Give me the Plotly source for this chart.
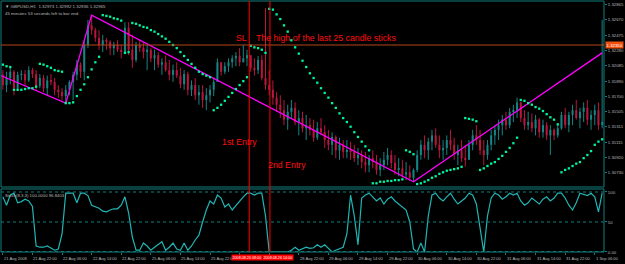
import plotly.graph_objects as go

# ---------------- data (prices in pips above 1.30000) ----------------
BASE = 1.30000
PIP = 0.0001

OPEN0 = 197
HIGH = [203, 201, 206, 203, 201, 203, 203, 208, 206, 203,
        198, 197, 196, 198, 193, 184, 180, 184, 190, 201,
        216, 213, 241, 267, 273, 257, 254, 248, 244, 241,
        239, 241, 235, 264, 264, 248, 239, 241, 238, 235,
        231, 229, 226, 218, 222, 216, 210, 213, 206, 203,
        201, 190, 193, 184, 184, 180, 184, 193, 218, 213,
        213, 218, 222, 226, 231, 235, 229, 222, 218, 221,
        222, 282, 203, 190, 175, 171, 165, 159, 165, 162,
        152, 150, 146, 142, 140, 137, 142, 133, 127, 124,
        120, 117, 114, 114, 112, 108, 104, 101, 99, 95,
        101, 95, 91, 99, 104, 101, 95, 91, 89, 86,
        82, 78, 101, 114, 120, 117, 127, 129, 120, 114,
        120, 127, 117, 108, 114, 108, 114, 127, 133, 127,
        114, 114, 127, 133, 140, 146, 150, 155, 159, 168,
        162, 152, 150, 148, 146, 142, 140, 137, 133, 129,
        133, 150, 155, 150, 159, 165, 155, 162, 165, 152,
        159, 162, 267]
LOW = [178, 175, 185, 171, 178, 190, 184, 188, 193, 178,
       180, 175, 170, 184, 171, 168, 165, 161, 171, 165,
       190, 193, 190, 231, 248, 239, 229, 226, 229, 222,
       222, 226, 218, 229, 222, 206, 213, 226, 218, 203,
       213, 203, 206, 197, 201, 190, 188, 193, 180, 178,
       171, 170, 165, 159, 155, 152, 162, 170, 188, 196,
       198, 201, 206, 208, 208, 213, 208, 201, 196, 198,
       190, 178, 171, 159, 150, 142, 133, 127, 142, 133,
       120, 124, 114, 120, 112, 114, 120, 104, 101, 95,
       91, 89, 91, 91, 89, 86, 82, 78, 73, 73,
       78, 70, 68, 76, 82, 78, 70, 68, 66, 63,
       62, 61, 73, 89, 91, 89, 101, 104, 91, 89,
       95, 101, 89, 82, 86, 80, 89, 101, 108, 95,
       82, 89, 101, 108, 114, 120, 127, 129, 137, 142,
       137, 127, 127, 124, 120, 117, 117, 114, 95, 114,
       117, 127, 129, 124, 133, 140, 129, 137, 133, 127,
       133, 127, 129]
CLOSE = [184, 193, 201, 180, 197, 198, 190, 203, 198, 183,
         193, 180, 190, 188, 178, 175, 170, 178, 188, 197,
         210, 201, 235, 260, 254, 244, 235, 241, 239, 231,
         235, 229, 226, 257, 229, 216, 235, 231, 226, 229,
         218, 222, 210, 213, 203, 197, 203, 196, 185, 198,
         178, 184, 171, 175, 165, 171, 178, 188, 213, 201,
         208, 213, 218, 221, 213, 218, 222, 206, 203, 216,
         193, 184, 178, 168, 159, 152, 140, 150, 155, 137,
         142, 129, 133, 127, 117, 129, 124, 114, 108, 118,
         101, 108, 99, 101, 99, 91, 95, 86, 82, 91,
         86, 76, 82, 89, 95, 85, 76, 78, 70, 73,
         66, 76, 95, 108, 101, 112, 120, 108, 101, 104,
         114, 108, 95, 101, 91, 89, 108, 120, 114, 101,
         95, 108, 120, 127, 133, 140, 133, 150, 152, 162,
         142, 133, 137, 129, 140, 124, 133, 120, 127, 120,
         129, 146, 133, 146, 152, 142, 150, 155, 140, 146,
         152, 133, 137]
SAR = [210, 208, 207, 178, 178, 178, 179, 180, 180, 182,
       211, 210, 208, 206, 203, 202, 201, 161, 161, 162,
       170, 178, 185, 194, 204, 213, 220, 273, 272, 271,
       269, 268, 266, 225, 226, 263, 262, 260, 258, 257,
       254, 252, 249, 246, 243, 239, 235, 231, 226, 221,
       216, 211, 206, 201, 198, 196, 194, 152, 155, 159,
       164, 169, 174, 179, 184, 189, 194, 234, 232, 231,
       229, 225, 281, 280, 274, 268, 260, 252, 241, 232,
       224, 215, 207, 199, 193, 187, 180, 174, 168, 161,
       155, 148, 142, 137, 131, 124, 118, 112, 106, 101,
       59, 59, 61, 61, 62, 62, 63, 63, 64, 101,
       99, 96, 58, 59, 61, 63, 66, 68, 71, 73,
       75, 76, 77, 78, 80, 142, 141, 140, 138, 76,
       78, 81, 84, 86, 90, 94, 99, 104, 110, 117,
       165, 164, 161, 159, 156, 154, 151, 147, 143, 140,
       134, 73, 76, 78, 81, 84, 86, 91, 95, 100,
       108, 112, 115]
STOCH = [92, 78, 95, 98, 82, 84, 88, 85, 76, 10,
         8, 8, 10, 7, 3, 5, 30, 98, 98, 98,
         82, 98, 98, 94, 78, 76, 73, 68, 67, 70,
         72, 72, 78, 92, 65, 25, 3, 3, 15, 10,
         3, 8, 12, 17, 3, 8, 15, 5, 3, 15,
         3, 10, 20, 28, 50, 70, 85, 80, 95, 90,
         75, 80, 70, 78, 85, 92, 98, 98, 95, 98,
         98, 60, 0, 0, 0, 0, 0, 0, 3, 8,
         3, 5, 8, 6, 7, 12, 8, 12, 6, 0,
         3, 6, 8, 30, 95, 60, 12, 90, 95, 98,
         92, 85, 90, 80, 88, 92, 85, 80, 75, 70,
         50, 5, 0, 15, 0, 60, 95, 98, 90, 85,
         92, 98, 88, 80, 85, 90, 98, 95, 80, 40,
         0, 60, 90, 98, 95, 88, 92, 98, 95, 98,
         85, 78, 82, 90, 85, 80, 88, 92, 85, 90,
         98, 98, 90, 78, 70, 82, 98, 96, 94, 98,
         92, 67, 98]

ZZ_BARS = [-1, 17, 24, 111, 162]
ZZ_PRICE = [1.3197, 1.3161, 1.3273, 1.3061, 1.3225]
SL_PRICE = 1.3235
ENTRY_BARS = [66.6, 72.2]
ENTRY_TIMES = ["2008.08.26 09:00", "2008.08.26 14:00"]

PRICE_TICKS = [1.32865, 1.32670, 1.32475, 1.32280, 1.32085, 1.31890, 1.31700,
               1.31505, 1.31311, 1.31115, 1.30920, 1.30730, 1.30535]
# time labels (those under the red date boxes are not visible in the chart)
TIME_BARS = [0, 8, 16, 24, 32, 40, 48, 56, 80, 88, 96, 104, 112, 120,
             128, 136, 144, 152, 160]
TIME_LABELS = ["21 Aug 2008", "21 Aug 22:00", "22 Aug 06:00", "22 Aug 14:00",
               "22 Aug 22:00", "25 Aug 06:00", "25 Aug 14:00", "25 Aug 22:00",
               "28 Aug 22:00", "29 Aug 06:00",
               "29 Aug 14:00", "29 Aug 22:00", "30 Aug 06:00", "30 Aug 14:00",
               "30 Aug 22:00", "31 Aug 06:00", "31 Aug 14:00", "31 Aug 22:00",
               "1 Sep 06:00"]
TICK_BARS = [8 * k for k in range(21)]

# ---------------- styles ----------------
TEAL = "#137f7f"
BULL = "#168484"
BEAR = "#b8173e"
SARC = "#00f5a0"
LBL = "#b8b8b8"
FONT = "Arial"
TXT_RED = "#ff1010"

N = len(CLOSE)
idx = list(range(N))
opens = [OPEN0] + CLOSE[:-1]
o = [BASE + v * PIP for v in opens]
c = [BASE + v * PIP for v in CLOSE]
h = [BASE + max(a, b, d) * PIP for a, b, d in zip(HIGH, opens, CLOSE)]
l = [BASE + min(a, b, d) * PIP for a, b, d in zip(LOW, opens, CLOSE)]
bull = [cc >= oo for oo, cc in zip(o, c)]

fig = go.Figure()

# wicks
for flag, col in ((True, BULL), (False, BEAR)):
    wx, wy = [], []
    for i in idx:
        if bull[i] == flag:
            wx += [i, i, None]
            wy += [l[i], h[i], None]
    fig.add_trace(go.Scatter(x=wx, y=wy, mode="lines", line=dict(color=col, width=1),
                             hoverinfo="skip", xaxis="x", yaxis="y"))

# bodies
fig.add_trace(go.Bar(x=idx, y=[max(abs(cc - oo), 0.00002) for oo, cc in zip(o, c)],
                     base=[min(oo, cc) for oo, cc in zip(o, c)], width=0.55,
                     marker=dict(color=[BULL if b else BEAR for b in bull], line=dict(width=0)),
                     xaxis="x", yaxis="y", hoverinfo="skip"))

# zigzag
fig.add_trace(go.Scatter(x=ZZ_BARS, y=ZZ_PRICE, mode="lines",
                         line=dict(color="#ff00ff", width=1.3), xaxis="x", yaxis="y"))

# parabolic SAR
fig.add_trace(go.Scatter(x=idx, y=[BASE + v * PIP for v in SAR], mode="markers",
                         marker=dict(symbol="square", size=2.3, color=SARC, line=dict(width=0)),
                         xaxis="x", yaxis="y"))

# oscillator
fig.add_trace(go.Scatter(x=idx, y=STOCH, mode="lines", line=dict(color="#22b5b5", width=1.2),
                         xaxis="x", yaxis="y2"))

shapes = [
    dict(type="rect", xref="paper", yref="paper", x0=0, x1=1, y0=0.259, y1=1,
         line=dict(color=TEAL, width=1)),
    dict(type="rect", xref="paper", yref="paper", x0=0, x1=1, y0=0, y1=0.251,
         line=dict(color=TEAL, width=1)),
    dict(type="line", xref="paper", yref="y", x0=0, x1=1, y0=SL_PRICE, y1=SL_PRICE,
         line=dict(color="#b4461c", width=1)),
]
for lv in (100, 50, 0.6):
    shapes.append(dict(type="line", xref="paper", yref="y2", x0=0, x1=1, y0=lv, y1=lv,
                       line=dict(color=TEAL, width=1, dash="dot")))
for eb in ENTRY_BARS:
    shapes.append(dict(type="line", xref="x", yref="paper", x0=eb, x1=eb, y0=0, y1=1,
                       line=dict(color="#ff0000", width=1)))

ann = []
ann.append(dict(xref="paper", yref="paper", x=0, y=1, xanchor="left", yanchor="top",
                xshift=2, yshift=-1, showarrow=False,
                text="▼ GBPUSD,H1  1.32973 1.32992 1.32936 1.32965",
                font=dict(family=FONT, size=4.4, color=LBL)))
ann.append(dict(xref="paper", yref="paper", x=0, y=1, xanchor="left", yanchor="top",
                xshift=2, yshift=-8, showarrow=False,
                text="45 minutes 53 seconds left to bar end",
                font=dict(family=FONT, size=4.4, color=LBL)))
ann.append(dict(xref="paper", yref="paper", x=0, y=0.251, xanchor="left", yanchor="top",
                xshift=2, yshift=-2, showarrow=False,
                text="Stoch(8,3,3) 100.0000 96.8403",
                font=dict(family=FONT, size=4.3, color=LBL)))
# chart texts
ann.append(dict(x=64.4, y=1.3244, xref="x", yref="y", showarrow=False, text="SL",
                font=dict(family=FONT, size=8.8, color=TXT_RED)))
ann.append(dict(x=67.9, y=1.3244, xref="x", yref="y", xanchor="left", showarrow=False,
                text="The high of the last 25 candle sticks",
                font=dict(family=FONT, size=8.8, color=TXT_RED)))
ann.append(dict(x=64.1, y=1.3111, xref="x", yref="y", showarrow=False, text="1st Entry",
                font=dict(family=FONT, size=8.8, color=TXT_RED)))
ann.append(dict(x=76.8, y=1.3082, xref="x", yref="y", showarrow=False, text="2nd Entry",
                font=dict(family=FONT, size=8.8, color=TXT_RED)))
# price label of SL line
ann.append(dict(xref="paper", yref="y", x=1, y=SL_PRICE, xanchor="left", xshift=1,
                showarrow=False, text=f"{SL_PRICE:.5f}", bgcolor="#f0500f", borderpad=0.6,
                font=dict(family=FONT, size=4.3, color="#ffffff")))
# time labels
for tb, tl in zip(TIME_BARS, TIME_LABELS):
    ann.append(dict(xref="x", yref="paper", x=tb, y=0, xanchor="left", yanchor="top",
                    xshift=-1, yshift=-2, showarrow=False, text=tl,
                    font=dict(family=FONT, size=4.05, color=LBL)))
for eb, et, xa, xs in zip(ENTRY_BARS, ENTRY_TIMES, ("right", "left"), (14, -8)):
    ann.append(dict(xref="x", yref="paper", x=eb, y=0, xanchor=xa, yanchor="top",
                    xshift=xs, yshift=-2, showarrow=False,
                    text=et, bgcolor="#ff0000", borderpad=0.5,
                    font=dict(family=FONT, size=3.7, color="#ffffff")))

fig.update_layout(
    width=625, height=264, margin=dict(l=1, r=19, t=1, b=12, pad=0),
    paper_bgcolor="black", plot_bgcolor="black", showlegend=False, hovermode=False,
    shapes=shapes, annotations=ann,
    xaxis=dict(range=[-0.5, N - 0.5], domain=[0, 1], anchor="y2", showgrid=False,
               zeroline=False, showticklabels=False, tickvals=TICK_BARS, ticks="outside",
               ticklen=2, tickcolor=TEAL, showline=False, fixedrange=True),
    yaxis=dict(domain=[0.259, 1], range=[1.30543, 1.32910], side="right", anchor="x",
               tickvals=PRICE_TICKS, ticktext=[f"{v:.5f}" for v in PRICE_TICKS],
               ticks="outside", ticklen=2, tickcolor=TEAL, showgrid=False, zeroline=False,
               tickfont=dict(family=FONT, size=4.3, color=LBL), showline=False),
    yaxis2=dict(domain=[0, 0.251], range=[0, 105], side="right", anchor="x",
                tickvals=[0, 50, 100], ticktext=["0.00", "50", "100"],
                ticks="outside", ticklen=2, tickcolor=TEAL, showgrid=False, zeroline=False,
                tickfont=dict(family=FONT, size=4.3, color=LBL), showline=False),
)

fig.write_html("out.html", config={"displayModeBar": False})
